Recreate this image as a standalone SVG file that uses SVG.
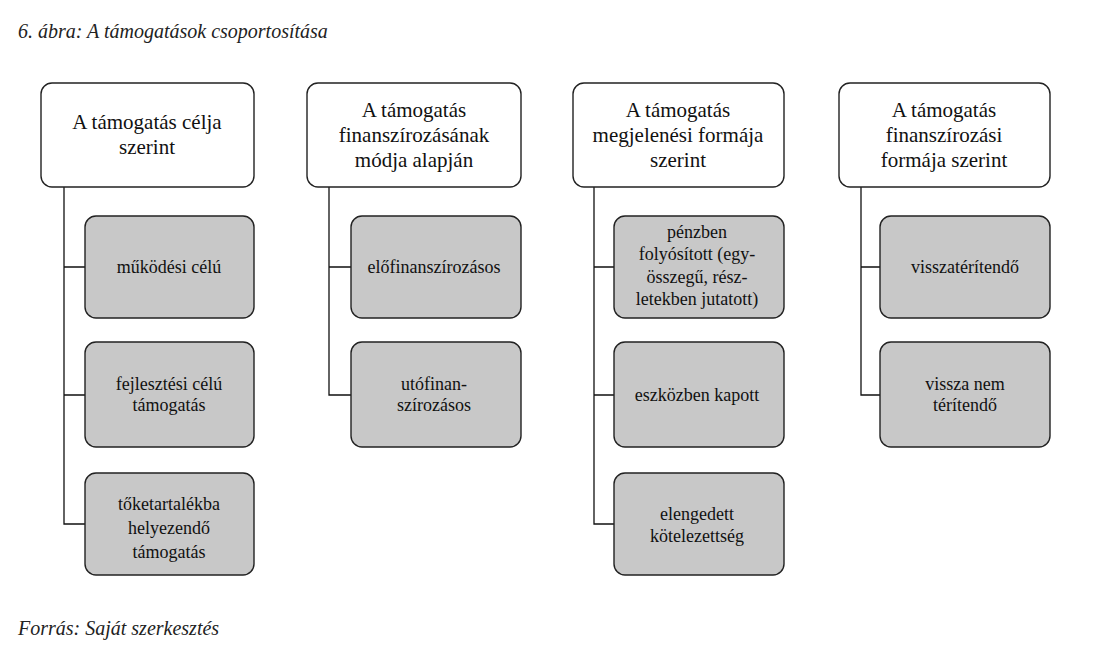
<svg xmlns="http://www.w3.org/2000/svg" width="1102" height="660" viewBox="0 0 1102 660" font-family="'Liberation Serif','DejaVu Serif',serif">
<style>
text{font-family:'Liberation Serif','DejaVu Serif',serif;fill:#111;text-anchor:middle}
.h{font-size:21px}.c{font-size:18px}
.it{font-style:italic;font-size:20px;text-anchor:start;fill:#222}
.hb{fill:#fff;stroke:#222;stroke-width:1.4}
.cb{fill:#c8c8c8;stroke:#222;stroke-width:1.4}
.ln{stroke:#111;stroke-width:1.3;fill:none}
</style>
<rect width="1102" height="660" fill="#fff"/>
<text class="it" x="18" y="38">6. ábra: A támogatások csoportosítása</text>
<text class="it" x="18" y="635">Forrás: Saját szerkesztés</text>
<g id="connectors">
<path class="ln" d="M64 187V524H85M64 267H85M64 395H85"/>
<path class="ln" d="M329 187V395H351M329 267H351"/>
<path class="ln" d="M594 187V524H614M594 267H614M594 395H614"/>
<path class="ln" d="M861 187V395H880M861 267H880"/>
</g>
<g id="h1"><rect class="hb" x="41" y="83" width="213" height="104" rx="11"/><text class="h" x="147" y="129">A támogatás célja</text><text class="h" x="147" y="154">szerint</text></g>
<g id="h2"><rect class="hb" x="307" y="83" width="214" height="104" rx="11"/><text class="h" x="414" y="117">A támogatás</text><text class="h" x="414" y="142">finanszírozásának</text><text class="h" x="414" y="167">módja alapján</text></g>
<g id="h3"><rect class="hb" x="573" y="83" width="211" height="104" rx="11"/><text class="h" x="678" y="117">A támogatás</text><text class="h" x="678" y="142">megjelenési formája</text><text class="h" x="678" y="167">szerint</text></g>
<g id="h4"><rect class="hb" x="839" y="83" width="211" height="104" rx="11"/><text class="h" x="944" y="117">A támogatás</text><text class="h" x="944" y="142">finanszírozási</text><text class="h" x="944" y="167">formája szerint</text></g>
<g id="c11"><rect class="cb" x="85" y="216" width="169" height="102" rx="11"/><text class="c" x="169" y="273">működési célú</text></g>
<g id="c12"><rect class="cb" x="85" y="342" width="169" height="105" rx="11"/><text class="c" x="169" y="390">fejlesztési célú</text><text class="c" x="169" y="411">támogatás</text></g>
<g id="c13"><rect class="cb" x="85" y="473" width="169" height="102" rx="11"/><text class="c" x="169" y="510">tőketartalékba</text><text class="c" x="169" y="534">helyezendő</text><text class="c" x="169" y="558">támogatás</text></g>
<g id="c21"><rect class="cb" x="351" y="216" width="170" height="102" rx="11"/><text class="c" x="434" y="273">előfinanszírozásos</text></g>
<g id="c22"><rect class="cb" x="351" y="342" width="170" height="105" rx="11"/><text class="c" x="434" y="390">utófinan-</text><text class="c" x="434" y="411">szírozásos</text></g>
<g id="c31"><rect class="cb" x="614" y="216" width="170" height="102" rx="11"/><text class="c" x="697" y="238">pénzben</text><text class="c" x="697" y="260">folyósított (egy-</text><text class="c" x="697" y="283">összegű, rész-</text><text class="c" x="697" y="305">letekben jutatott)</text></g>
<g id="c32"><rect class="cb" x="614" y="342" width="170" height="105" rx="11"/><text class="c" x="697" y="401">eszközben kapott</text></g>
<g id="c33"><rect class="cb" x="614" y="473" width="170" height="102" rx="11"/><text class="c" x="697" y="520">elengedett</text><text class="c" x="697" y="542">kötelezettség</text></g>
<g id="c41"><rect class="cb" x="880" y="216" width="170" height="102" rx="11"/><text class="c" x="965" y="273">visszatérítendő</text></g>
<g id="c42"><rect class="cb" x="880" y="342" width="170" height="105" rx="11"/><text class="c" x="965" y="390">vissza nem</text><text class="c" x="965" y="411">térítendő</text></g>
</svg>
